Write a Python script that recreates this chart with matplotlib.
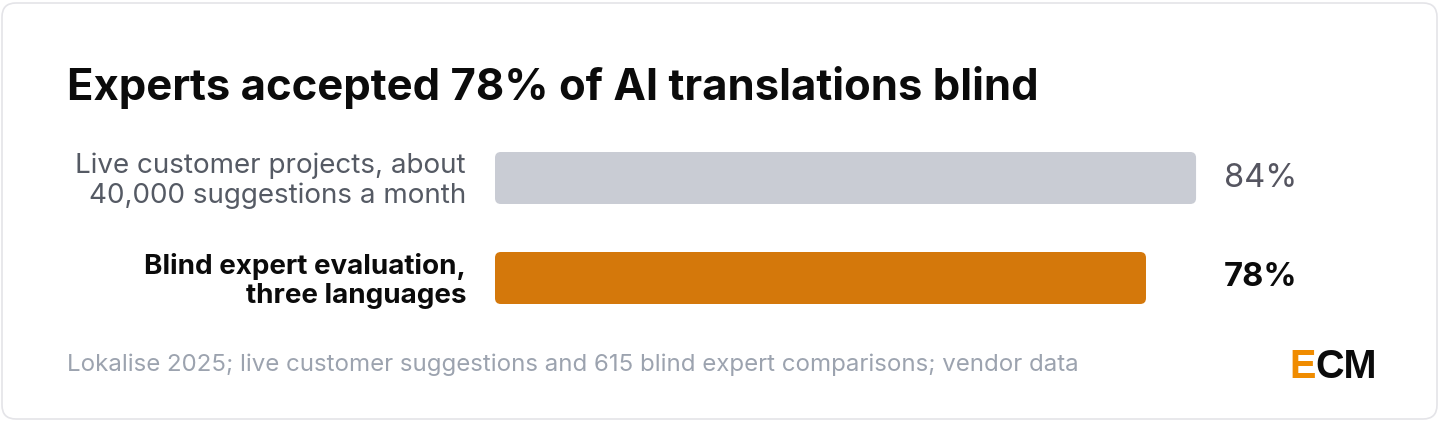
import matplotlib.pyplot as plt
from matplotlib.patches import FancyBboxPatch

# data
categories = ["Live customer projects, about\n40,000 suggestions a month",
              "Blind expert evaluation,\nthree languages"]
values = [84, 78]
value_labels = ["84%", "78%"]
bar_colors = ["#c9ccd4", "#d4780b"]
label_colors = ["#555a64", "#0b0b0b"]
value_colors = ["#555560", "#0b0b0b"]
label_weights = ["normal", "bold"]

title = "Experts accepted 78% of AI translations blind"
source = "Lokalise 2025; live customer suggestions and 615 blind expert comparisons; vendor data"

W, H = 1440, 421
plt.rcParams['font.family'] = ['Inter', 'DejaVu Sans']

fig = plt.figure(figsize=(W / 100, H / 100), dpi=100)
fig.patch.set_facecolor("#ffffff")

# card background
card = FancyBboxPatch((2 / W, 2 / H), (W - 5) / W, (H - 5) / H,
                      boxstyle="round,pad=0,rounding_size=0.0097",
                      mutation_aspect=W / H,
                      transform=fig.transFigure, facecolor="white",
                      edgecolor="#e4e4e8", linewidth=1.2, zorder=-5)
fig.patches.append(card)

# axes: left edge at bar start, 100% = ~835 px
ax_left, ax_w = 495, 834.6
ax_top, ax_bot = 128, 328
ax = fig.add_axes([ax_left / W, 1 - ax_bot / H, ax_w / W, (ax_bot - ax_top) / H])
ax.set_xlim(0, 100)
ax.set_ylim(1.5, -0.5)
ax.axis("off")

bar_h = 0.52
# x data units per px vs y data units per px
aspect = (2.0 / (ax_bot - ax_top)) / (100 / ax_w)
for i, (v, c) in enumerate(zip(values, bar_colors)):
    p = FancyBboxPatch((0, i - bar_h / 2), v, bar_h,
                       boxstyle="round,pad=0,rounding_size=0.7",
                       mutation_aspect=aspect,
                       facecolor=c, edgecolor="none")
    ax.add_patch(p)
    ax.text(87.3, i, value_labels[i], ha="left", va="center",
            fontsize=23.5, color=value_colors[i],
            fontweight=label_weights[i])
    ax.annotate(categories[i], xy=(0, i), xycoords=("axes fraction", "data"),
                xytext=(-29 * 0.72, -2), textcoords="offset points",
                ha="right", va="center", multialignment="right",
                fontsize=20, color=label_colors[i],
                fontweight=label_weights[i], linespacing=1.15)

fig.text(67 / W, 1 - 100 / H, title, ha="left", va="baseline",
         fontsize=31.4, fontweight="bold", color="#0b0b0b")
fig.text(67 / W, 1 - 371 / H, source, ha="left", va="baseline",
         fontsize=17.3, color="#9ca3af")

# logo
e = fig.text(1289 / W, 1 - 378.5 / H, "E", ha="left", va="baseline",
             fontsize=28.5, fontweight="bold", color="#f08c00",
             family="Liberation Sans")
fig.texts.append(
    plt.Annotation("CM", xy=(1, 0), xycoords=e, ha="left", va="bottom",
                   fontsize=28.5, fontweight="bold", color="#0b0b0b",
                   family="Liberation Sans", annotation_clip=False))
fig.texts[-1].set_figure(fig)

fig.savefig("out.png", dpi=100)
